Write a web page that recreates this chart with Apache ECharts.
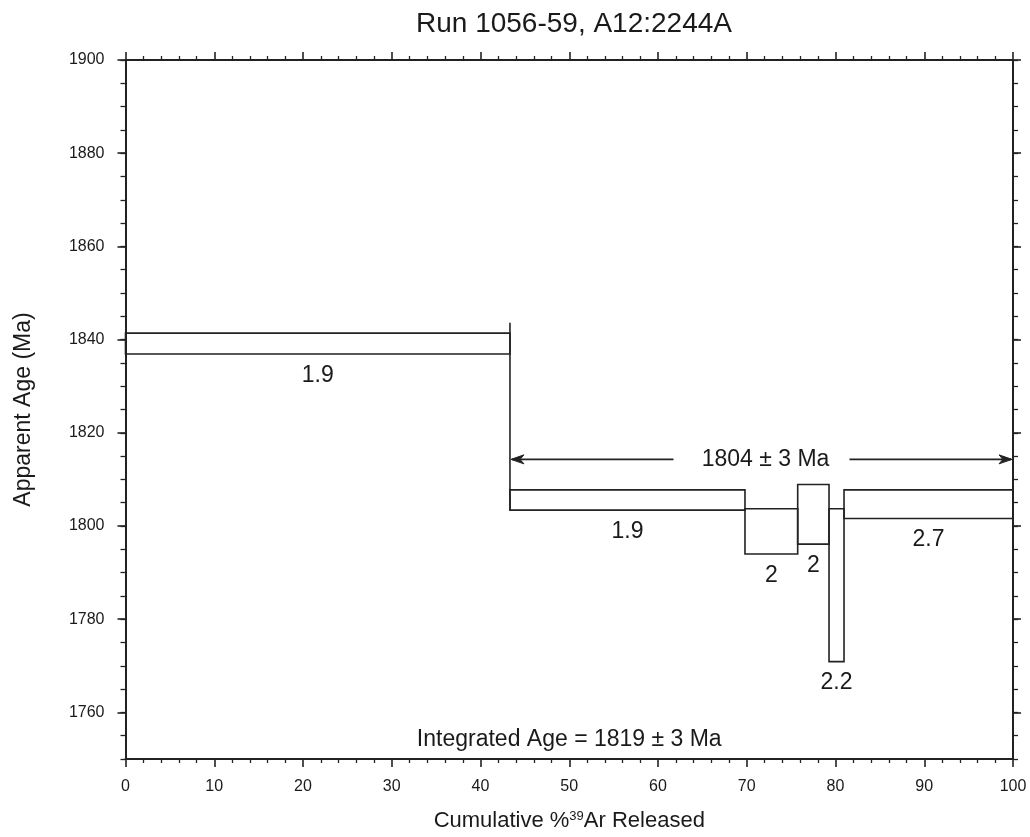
<!DOCTYPE html>
<html>
<head>
<meta charset="utf-8">
<title>Run 1056-59, A12:2244A</title>
<script src="https://cdn.jsdelivr.net/npm/echarts@6/dist/echarts.min.js"></script>
<style>
  html, body { margin: 0; padding: 0; background: #fff; }
  #chart { width: 1030px; height: 837px; }
</style>
</head>
<body>
<div id="chart"></div>
<script>
// Step-heating spectrum: each heating step spans a range of cumulative 39Ar
// and is drawn as a box from its lower to upper apparent-age bound.
const stepStart = [0, 43.32, 69.8, 75.74, 79.27, 80.96];
const stepEnd   = [43.32, 69.8, 75.74, 79.27, 80.96, 100];
const ageLow    = [1836.9, 1803.4, 1794.0, 1796.1, 1770.9, 1801.6];
const ageHigh   = [1841.4, 1807.75, 1803.7, 1808.9, 1803.7, 1807.75];
const stepLabels = ['1.9', '1.9', '2', '2', '2.2', '2.7'];

// Plateau annotation
const plateauFrom = 43.32;
const plateauTo = 100;
const plateauArrowAge = 1814.3;
const plateauMarkerTop = 1843.6;
const plateauText = '1804 ± 3 Ma';

// Integrated age caption
const integratedText = 'Integrated Age = 1819 ± 3 Ma';
const integratedPos = [50, 1754.1];

// Axis ticks
const xTicks = [0, 10, 20, 30, 40, 50, 60, 70, 80, 90, 100];
const yLabelTicks = [1760, 1780, 1800, 1820, 1840, 1860, 1880, 1900];

const FONT = '"Liberation Sans", Arial, Helvetica, sans-serif';
const INK = '#1a1a1a';
const LINE = '#222';

const chart = echarts.init(document.getElementById('chart'), null, { renderer: 'canvas' });

const stepData = stepStart.map((s, i) => [s, stepEnd[i], ageLow[i], ageHigh[i], stepLabels[i]]);

function renderStep(params, api) {
  const x0 = api.value(0), x1 = api.value(1), lo = api.value(2), hi = api.value(3);
  const pTop = api.coord([x0, hi]);
  const pBot = api.coord([x1, lo]);
  return {
    type: 'group',
    children: [
      {
        type: 'rect',
        shape: { x: pTop[0], y: pTop[1], width: pBot[0] - pTop[0], height: pBot[1] - pTop[1] },
        style: { fill: 'none', stroke: LINE, lineWidth: 1.6 }
      },
      {
        type: 'text',
        x: (pTop[0] + pBot[0]) / 2,
        y: pBot[1] + 10,
        style: {
          text: stepLabels[params.dataIndex],
          fontSize: 23, fontFamily: FONT, fill: INK,
          align: 'center', verticalAlign: 'top'
        }
      }
    ]
  };
}

function arrowHead(tipX, y, dir) {
  // dir = -1 points left, +1 points right
  const L = 13, W = 4.5, notch = 9;
  return {
    type: 'polygon',
    shape: {
      points: [
        [tipX, y],
        [tipX - dir * L, y - W],
        [tipX - dir * notch, y],
        [tipX - dir * L, y + W]
      ]
    },
    style: { fill: LINE, stroke: LINE, lineWidth: 1 }
  };
}

function renderPlateau(params, api) {
  const left = api.coord([plateauFrom, plateauArrowAge]);
  const right = api.coord([plateauTo, plateauArrowAge]);
  const mTop = api.coord([plateauFrom, plateauMarkerTop]);
  const mBot = api.coord([plateauFrom, ageLow[1]]);
  const y = left[1];
  const mid = (left[0] + right[0]) / 2;
  const halfGap = 88;
  return {
    type: 'group',
    children: [
      { type: 'line', shape: { x1: mTop[0], y1: mTop[1], x2: mBot[0], y2: mBot[1] },
        style: { stroke: LINE, lineWidth: 1.6 } },
      { type: 'line', shape: { x1: left[0] + 2, y1: y, x2: mid - halfGap, y2: y },
        style: { stroke: LINE, lineWidth: 1.6 } },
      { type: 'line', shape: { x1: mid + halfGap, y1: y, x2: right[0] - 2, y2: y },
        style: { stroke: LINE, lineWidth: 1.6 } },
      arrowHead(left[0] + 1, y, -1),
      arrowHead(right[0] - 1, y, 1),
      { type: 'text', x: mid + 4, y: y,
        style: { text: plateauText, fontSize: 23, fontFamily: FONT, fill: INK,
                 align: 'center', verticalAlign: 'middle' } }
    ]
  };
}

function renderCaption(params, api) {
  const p = api.coord(integratedPos);
  return {
    type: 'text', x: p[0], y: p[1],
    style: { text: integratedText, fontSize: 23, fontFamily: FONT, fill: INK,
             align: 'center', verticalAlign: 'middle' }
  };
}

const axisLineStyle = { show: true, lineStyle: { color: LINE, width: 2 } };
const majorTick = { show: true, inside: false, length: 8, lineStyle: { color: LINE, width: 1.6 } };
const minorTickStyle = { color: LINE, width: 1.3 };
const plainNumber = (v) => String(v);

const option = {
  backgroundColor: '#fff',
  animation: false,
  textStyle: { fontFamily: FONT },
  title: {
    text: 'Run 1056-59, A12:2244A',
    left: 569, top: 5, textAlign: 'center',
    textStyle: { fontSize: 28, fontWeight: 'normal', color: INK, fontFamily: FONT }
  },
  grid: { left: 125.5, right: 17, top: 60, bottom: 77, containLabel: false },
  xAxis: [
    {
      type: 'value', position: 'bottom', min: 0, max: 100, interval: 10,
      axisLine: axisLineStyle,
      axisTick: majorTick,
      minorTick: { show: true, splitNumber: 5, length: 4, lineStyle: minorTickStyle },
      splitLine: { show: false }, minorSplitLine: { show: false },
      axisLabel: { show: true, fontSize: 16, color: INK, margin: 20, fontFamily: FONT,
                   customValues: xTicks, formatter: plainNumber },
      name: 'Cumulative %{sup|39}Ar Released',
      nameLocation: 'middle', nameGap: 51,
      nameTextStyle: {
        fontSize: 22, color: INK, fontFamily: FONT,
        rich: { sup: { fontSize: 13, color: INK, fontFamily: FONT, verticalAlign: 'top', padding: [0, 0, 8, 0] } }
      }
    },
    {
      type: 'value', position: 'top', min: 0, max: 100, interval: 10,
      axisLine: axisLineStyle,
      axisTick: majorTick,
      minorTick: { show: true, splitNumber: 5, length: 4, lineStyle: minorTickStyle },
      splitLine: { show: false }, minorSplitLine: { show: false },
      axisLabel: { show: false }
    }
  ],
  yAxis: [
    {
      type: 'value', position: 'left', min: 1750, max: 1900,
      axisLine: axisLineStyle,
      axisTick: Object.assign({}, majorTick, { customValues: yLabelTicks }),
      splitLine: { show: false },
      axisLabel: { show: true, fontSize: 16, color: INK, margin: 21, fontFamily: FONT,
                   customValues: yLabelTicks, formatter: plainNumber },
      name: 'Apparent Age (Ma)',
      nameLocation: 'middle', nameGap: 90, nameRotate: 90,
      nameTextStyle: { fontSize: 23, color: INK, fontFamily: FONT }
    },
    {
      type: 'value', position: 'left', min: 1750, max: 1900, interval: 5,
      axisLine: { show: false },
      axisTick: { show: true, inside: false, length: 5, lineStyle: minorTickStyle },
      splitLine: { show: false },
      axisLabel: { show: false }
    },
    {
      type: 'value', position: 'right', min: 1750, max: 1900,
      axisLine: axisLineStyle,
      axisTick: Object.assign({}, majorTick, { customValues: yLabelTicks }),
      splitLine: { show: false },
      axisLabel: { show: false }
    },
    {
      type: 'value', position: 'right', min: 1750, max: 1900, interval: 5,
      axisLine: { show: false },
      axisTick: { show: true, inside: false, length: 5, lineStyle: minorTickStyle },
      splitLine: { show: false },
      axisLabel: { show: false }
    }
  ],
  series: [
    {
      type: 'custom', name: 'steps', xAxisIndex: 0, yAxisIndex: 0,
      renderItem: renderStep, data: stepData, clip: false, silent: true,
      encode: { x: [0, 1], y: [2, 3] }
    },
    {
      type: 'custom', name: 'plateau', xAxisIndex: 0, yAxisIndex: 0,
      renderItem: renderPlateau, data: [[plateauFrom, plateauTo, plateauArrowAge]],
      clip: false, silent: true, encode: { x: [0, 1], y: 2 }
    },
    {
      type: 'custom', name: 'integrated', xAxisIndex: 0, yAxisIndex: 0,
      renderItem: renderCaption, data: [integratedPos],
      clip: false, silent: true, encode: { x: 0, y: 1 }
    }
  ]
};

chart.setOption(option);
</script>
</body>
</html>
